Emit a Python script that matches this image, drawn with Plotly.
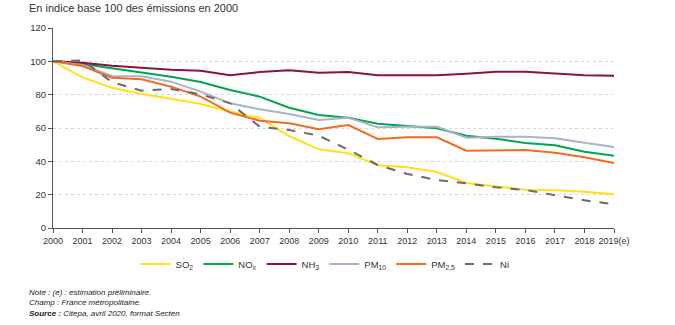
import plotly.graph_objects as go

years = [str(y) for y in range(2000, 2019)] + ["2019(e)"]
x_idx = list(range(2000, 2020))

so2 = [100, 90.4, 84.2, 80.4, 77.6, 74.4, 69.8, 66.0, 55.2, 47.2, 44.8, 37.6, 36.4, 33.6, 27.0, 25.2, 23.0, 22.6, 21.8, 20.2]
nox = [100, 98.4, 95.8, 93.4, 90.8, 87.6, 82.8, 78.8, 72.2, 67.8, 66.2, 62.6, 61.2, 59.8, 55.4, 53.6, 51.0, 49.6, 45.8, 43.4]
nh3 = [100, 99.2, 97.4, 96.2, 95.0, 94.4, 91.6, 93.6, 94.6, 93.2, 93.6, 91.6, 91.6, 91.6, 92.6, 93.8, 93.8, 92.8, 91.6, 91.4]
pm10 = [100, 97.8, 91.2, 91.0, 87.8, 81.8, 74.8, 71.2, 68.4, 64.8, 66.2, 60.4, 60.8, 60.8, 54.2, 54.8, 54.8, 53.8, 51.2, 48.6]
pm25 = [100, 97.2, 90.2, 89.2, 84.8, 78.8, 69.2, 64.4, 62.8, 59.2, 61.8, 53.4, 54.4, 54.4, 46.4, 46.8, 46.8, 45.2, 42.4, 39.0]
ni = [100, 100.6, 87.5, 82.4, 83.4, 80.2, 74.8, 60.8, 58.8, 55.4, 47.0, 37.8, 32.4, 28.8, 26.8, 24.4, 22.8, 19.6, 16.6, 14.2]

series = [
    ("SO<sub>2</sub>", so2, "#FFE01B", "solid"),
    ("NO<sub>x</sub>", nox, "#00A54F", "solid"),
    ("NH<sub>3</sub>", nh3, "#8A1048", "solid"),
    ("PM<sub>10</sub>", pm10, "#A7B4C8", "solid"),
    ("PM<sub>2,5</sub>", pm25, "#F26B21", "solid"),
    ("Ni", ni, "#6E6A68", "dash"),
]

fig = go.Figure()
for name, vals, col, dash in series:
    fig.add_trace(go.Scatter(
        x=x_idx, y=vals, mode="lines", name=name,
        line=dict(color=col, width=2, dash=dash),
    ))

font = "Liberation Sans, Arial, sans-serif"
fig.update_layout(
    width=675, height=325,
    margin=dict(l=53, r=61, t=28, b=97),
    paper_bgcolor="white", plot_bgcolor="white",
    font=dict(family=font, size=9, color="#333333"),
    showlegend=True,
    legend=dict(orientation="h", x=0.485, xanchor="center", y=-0.18, yanchor="middle",
                font=dict(size=9.5, color="#333333"), itemwidth=30, tracegroupgap=0),
    xaxis=dict(
        range=[2000, 2019], tickmode="array", tickvals=x_idx, ticktext=years,
        showgrid=False, zeroline=False, showline=True, linecolor="#555555", linewidth=1,
        ticks="outside", ticklen=4, tickcolor="#555555", tickfont=dict(size=9, color="#333333"),
        fixedrange=True,
    ),
    yaxis=dict(
        range=[0, 120], tickvals=[0, 20, 40, 60, 80, 100, 120],
        showgrid=True, gridcolor="#d6d6d6", griddash="dot", gridwidth=1,
        zeroline=False, showline=True, linecolor="#555555", linewidth=1,
        ticks="outside", ticklen=4, tickcolor="#555555", tickfont=dict(size=9.5, color="#333333"),
        fixedrange=True,
    ),
    annotations=[
        dict(text="En indice base 100 des émissions en 2000", xref="paper", yref="paper",
             x=-0.046, y=1.0, yshift=20, xanchor="left", yanchor="middle", showarrow=False,
             font=dict(size=11, color="#333333")),
        dict(text="<i>Note : (e) : estimation préliminaire.</i><br><i>Champ : France métropolitaine.</i><br><b><i>Source :</i></b><i> Citepa, avril 2020, format Secten</i>",
             xref="paper", yref="paper", x=-0.046, y=-0.29, xanchor="left", yanchor="top",
             align="left", showarrow=False, font=dict(size=8, color="#222222")),
    ],
)

fig.write_html("out.html")
